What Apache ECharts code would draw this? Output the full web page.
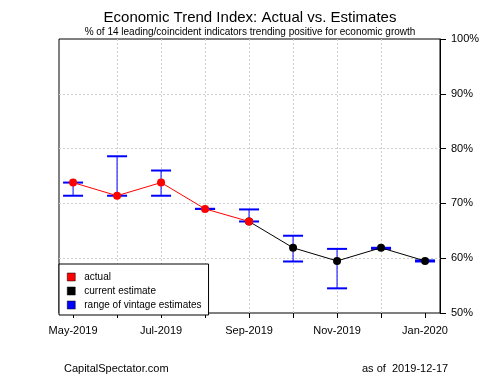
<!DOCTYPE html>
<html>
<head>
<meta charset="utf-8">
<script src="https://cdn.jsdelivr.net/npm/echarts@6/dist/echarts.min.js"></script>
<style>
  html, body { margin: 0; padding: 0; background: #fff; }
  #main { width: 500px; height: 375px; }
</style>
</head>
<body>
<div id="main"></div>
<script>
// months on the x axis (index 0..8)
var months = ["May-2019", "Jun-2019", "Jul-2019", "Aug-2019", "Sep-2019",
              "Oct-2019", "Nov-2019", "Dec-2019", "Jan-2020"];
// actual index values (May..Sep)
var actual = [73.8, 71.4, 73.8, 69.0, 66.7];
// current estimates (Sep..Jan)
var estimate = [66.7, 61.9, 59.5, 61.9, 59.5];
// range of vintage estimates, low / high per month
var rangeLow  = [71.4, 71.4, 71.4, 69.0, 66.7, 59.4, 54.5, 61.7, 59.4];
var rangeHigh = [73.8, 78.6, 76.0, 69.0, 68.9, 64.1, 61.7, 61.9, 59.6];
var yTicks = [50, 60, 70, 80, 90, 100];

var chart = echarts.init(document.getElementById("main"));

var actualData = actual.map(function (v, i) { return [i, v]; });
var estData = estimate.map(function (v, i) { return [i + 4, v]; });
var rangeData = rangeLow.map(function (v, i) { return [i, v, rangeHigh[i]]; });
var monthIdx = months.map(function (m, i) { return i; });

var font = "Liberation Sans, Arial, sans-serif";

var option = {
  backgroundColor: "#fff",
  animation: false,
  title: [
    {
      text: "Economic Trend Index: Actual vs. Estimates",
      left: "center", top: 5,
      textStyle: { fontFamily: font, fontSize: 15, fontWeight: "normal", color: "#000" }
    },
    {
      text: "% of 14 leading/coincident indicators trending positive for economic growth",
      left: "center", top: 22,
      textStyle: { fontFamily: font, fontSize: 10, fontWeight: "normal", color: "#000" }
    },
    {
      text: "CapitalSpectator.com",
      left: 59, top: 358,
      textStyle: { fontFamily: font, fontSize: 11, fontWeight: "normal", color: "#000" }
    },
    {
      text: "as of  2019-12-17",
      left: 357, top: 358,
      textStyle: { fontFamily: font, fontSize: 11, fontWeight: "normal", color: "#000" }
    }
  ],
  legend: {
    orient: "vertical",
    left: 59, top: 264,
    padding: [8, 7, 5, 8],
    itemGap: 4,
    itemWidth: 8, itemHeight: 8,
    borderColor: "#000", borderWidth: 1,
    backgroundColor: "#fff",
    textStyle: { fontFamily: font, fontSize: 10, color: "#000", padding: [0, 0, 0, 4] },
    data: [
      { name: "actual", icon: "rect", itemStyle: { color: "#ff0000", borderColor: "#000", borderWidth: 0.5 } },
      { name: "current estimate", icon: "rect", itemStyle: { color: "#000", borderColor: "#000", borderWidth: 0.5 } },
      { name: "range of vintage estimates", icon: "rect", itemStyle: { color: "#0000ff", borderColor: "#000", borderWidth: 0.5 } }
    ]
  },
  grid: {
    left: 59, right: 60, top: 39, bottom: 62,
    show: true, borderColor: "#000", borderWidth: 1, backgroundColor: "transparent"
  },
  xAxis: {
    type: "value",
    min: -0.32, max: 8.34,
    axisLine: { show: false, onZero: false },
    axisTick: { show: true, customValues: monthIdx, length: 5, lineStyle: { color: "#000" } },
    axisLabel: {
      customValues: [0, 2, 4, 6, 8],
      margin: 12,
      fontFamily: font, fontSize: 11, color: "#000",
      formatter: function (v) { return months[Math.round(v)]; }
    },
    splitLine: {
      show: true, showMinLine: false, showMaxLine: false,
      lineStyle: { color: "#cfcfcf", type: [2, 2], width: 1 }
    }
  },
  yAxis: {
    type: "value",
    position: "right",
    min: 50, max: 100, interval: 10,
    axisLine: { show: true, onZero: false, lineStyle: { color: "#000" } },
    axisTick: { show: true, length: 6, lineStyle: { color: "#000" } },
    axisLabel: {
      margin: 11,
      fontFamily: font, fontSize: 11, color: "#000",
      formatter: function (v) { return yTicks.indexOf(v) >= 0 ? v + "%" : ""; }
    },
    splitLine: {
      show: true, showMinLine: false, showMaxLine: false,
      lineStyle: { color: "#cfcfcf", type: [2, 2], width: 1 }
    }
  },
  series: [
    {
      name: "range of vintage estimates",
      type: "custom",
      z: 2,
      data: rangeData,
      renderItem: function (params, api) {
        var x = api.value(0);
        var lo = api.coord([x, api.value(1)]);
        var hi = api.coord([x, api.value(2)]);
        var hw = 10;
        var st = { stroke: "#0000ff", lineWidth: 1 };
        var cap = { stroke: "#0000ff", lineWidth: 2 };
        return {
          type: "group",
          children: [
            { type: "line", shape: { x1: lo[0], y1: lo[1], x2: hi[0], y2: hi[1] }, style: st },
            { type: "line", shape: { x1: lo[0] - hw, y1: lo[1], x2: lo[0] + hw, y2: lo[1] }, style: cap },
            { type: "line", shape: { x1: hi[0] - hw, y1: hi[1], x2: hi[0] + hw, y2: hi[1] }, style: cap }
          ]
        };
      }
    },
    {
      name: "current estimate",
      type: "line",
      z: 3,
      data: estData,
      symbol: "circle", symbolSize: 8,
      lineStyle: { color: "#000", width: 1 },
      itemStyle: { color: "#000" }
    },
    {
      name: "actual",
      type: "line",
      z: 4,
      data: actualData,
      symbol: "circle", symbolSize: 8,
      lineStyle: { color: "#ff0000", width: 1 },
      itemStyle: { color: "#ff0000" }
    }
  ]
};

chart.setOption(option);
</script>
</body>
</html>
